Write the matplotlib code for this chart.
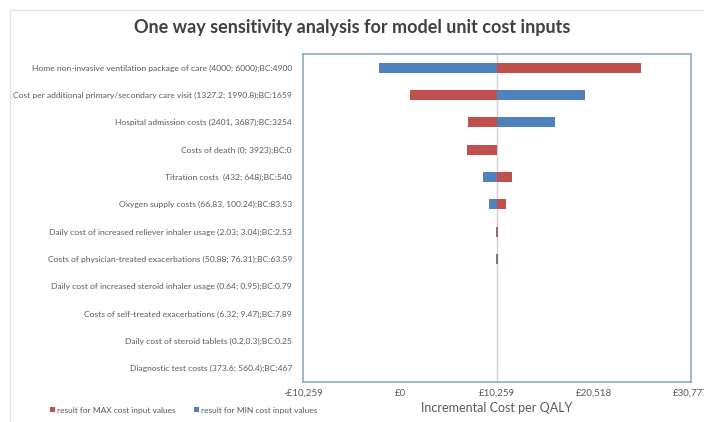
import matplotlib.pyplot as plt
import numpy as np

# Paramètres et résultats (ICER)
labels = [
    "Home non-invasive ventilation package of care (4000; 6000);BC:4900",
    "Cost per additional primary/secondary care visit (1327.2; 1990.8);BC:1659",
    "Hospital admission costs (2401, 3687);BC:3254",
    "Costs of death (0; 3923);BC:0",
    "Titration costs  (432; 648);BC:540",
    "Oxygen supply costs (66.83, 100.24);BC:83.53",
    "Daily cost of increased reliever inhaler usage (2.03; 3.04);BC:2.53",
    "Costs of physician-treated exacerbations (50.88; 76.31);BC:63.59",
    "Daily cost of increased steroid inhaler usage (0.64; 0.95);BC:0.79",
    "Costs of self-treated exacerbations (6.32; 9.47);BC:7.89",
    "Daily cost of steroid tablets (0.2,0.3);BC:0.25",
    "Diagnostic test costs (373.6; 560.4);BC:467",
]
base = 10259
res_min = [-2190, 19573, 16434, 10259, 8783, 9420, 10200, 10200, 10259, 10259, 10259, 10259]
res_max = [25500, 1026, 7228, 7055, 11815, 11180, 10320, 10320, 10259, 10259, 10259, 10259]
ticks = [-10259, 0, 10259, 20518, 30777]
tick_labels = ["-£10,259", "£0", "£10,259", "£20,518", "£30,777"]

rouge = "#C0504D"
bleu = "#4F81BD"
gris = "#595959"

plt.rcParams['font.family'] = ['Lato', 'DejaVu Sans']

fig = plt.figure(figsize=(7.04, 4.22), dpi=100)

# cadre léger du graphique (style Excel)
cadre = plt.Rectangle((10/704, -0.05), 1.0, (412/422) + 0.05, transform=fig.transFigure,
                      fill=False, edgecolor="#e2e2e2", linewidth=1)
fig.patches.append(cadre)

ax = fig.add_axes([303/704, 40/422, 388/704, 328/422])

y = np.arange(len(labels))
res_min = np.array(res_min)
res_max = np.array(res_max)
ax.barh(y, res_max - base, left=base, height=0.36, color=rouge, linewidth=0,
        label="result for MAX cost input values")
ax.barh(y, res_min - base, left=base, height=0.36, color=bleu, linewidth=0,
        label="result for MIN cost input values")
ax.axvline(base, color="#d0d0d0", linewidth=1, zorder=0)

ax.set_ylim(len(labels) - 0.5, -0.5)
ax.set_xlim(ticks[0], ticks[-1])
ax.set_yticks(y)
ax.set_yticklabels(labels, fontsize=6.1, color=gris)
ax.set_xticks(ticks)
ax.set_xticklabels(tick_labels, fontsize=7, color=gris)
ax.tick_params(length=0, pad=8)
ax.tick_params(axis='x', pad=5)
for s in ax.spines.values():
    s.set_color("#8faabb")
    s.set_linewidth(1.2)

ax.set_xlabel("Incremental Cost per QALY", fontsize=9, color=gris, labelpad=3)
fig.suptitle("One way sensitivity analysis for model unit cost inputs", fontsize=13,
             fontweight="bold", color="#404040", x=0.5, y=0.955)

ax.legend(loc="lower left", bbox_to_anchor=(42/704, 1/422), bbox_transform=fig.transFigure,
          ncol=2, frameon=False, fontsize=6.0, labelcolor=gris, handlelength=0.6, handleheight=0.6,
          handletextpad=0.3, columnspacing=2.2)

fig.savefig("out.png", dpi=100)
